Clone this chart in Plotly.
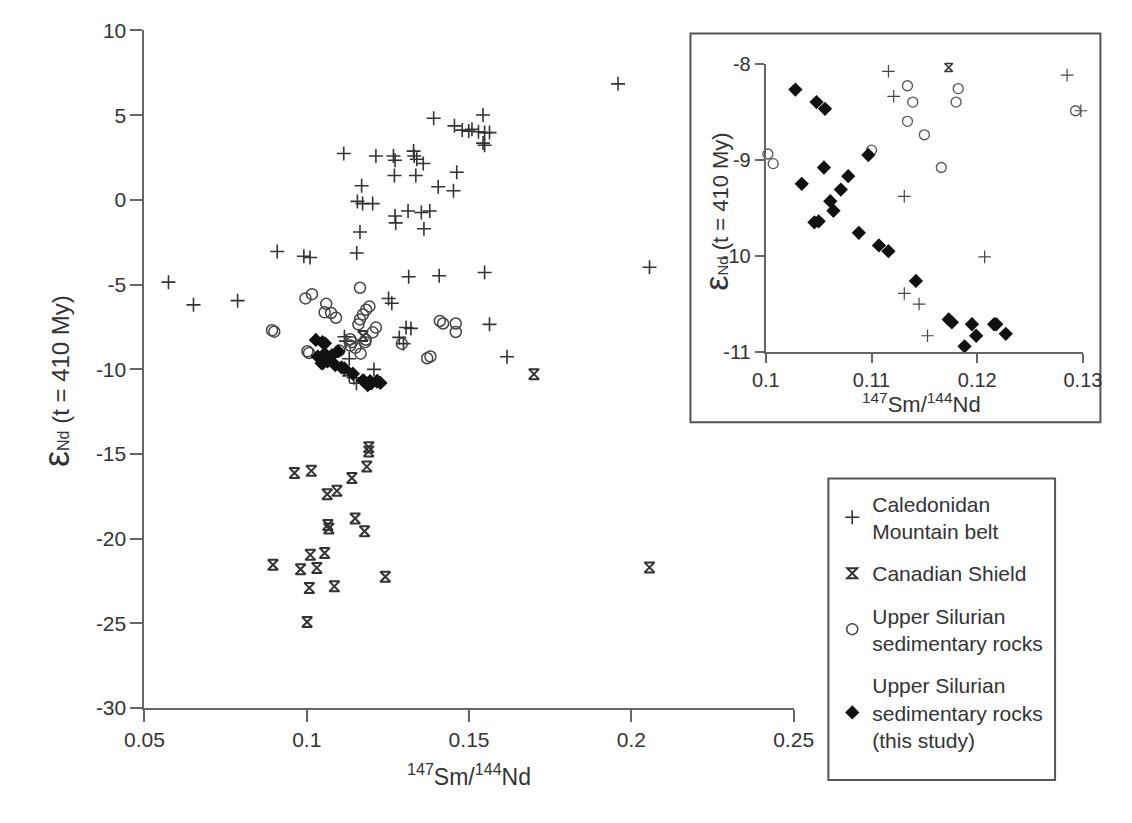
import plotly.graph_objects as go

W, H = 1132, 823

# ---------------- data ----------------
# Caledonidan Mountain belt
cal_x = [0.1391, 0.1543, 0.1455, 0.1479, 0.1499, 0.1509, 0.1529, 0.1548, 0.1563, 0.1543, 0.1548,
         0.1114, 0.1213, 0.1267, 0.1272, 0.1329, 0.1331, 0.1339, 0.1359,
         0.1270, 0.1336, 0.1462, 0.1405, 0.1452,
         0.1169, 0.1156, 0.1172, 0.1203,
         0.1272, 0.1274, 0.1312, 0.1353, 0.1379, 0.1361, 0.1164,
         0.0909, 0.0991, 0.1010, 0.1154,
         0.1314, 0.1408, 0.1548,
         0.0574, 0.0651, 0.0787,
         0.1252, 0.1262, 0.1306, 0.1321,
         0.1563, 0.1617, 0.2056, 0.1959,
         0.1116, 0.1121, 0.1131, 0.1131, 0.1145, 0.1153, 0.1207, 0.1285, 0.1298]
cal_y = [4.82, 5.01, 4.37, 4.12, 4.06, 4.17, 4.02, 3.97, 3.97, 3.35, 3.22,
         2.74, 2.59, 2.59, 2.34, 2.88, 2.59, 2.40, 2.15,
         1.44, 1.44, 1.63, 0.77, 0.54,
         0.83, -0.09, -0.22, -0.22,
         -0.95, -1.36, -0.66, -0.75, -0.66, -1.71, -1.90,
         -3.05, -3.33, -3.40, -3.14,
         -4.54, -4.48, -4.29,
         -4.86, -6.20, -5.95,
         -5.82, -6.10, -7.54, -7.59,
         -7.35, -9.26, -3.98, 6.85,
         -8.08, -8.34, -9.38, -10.39, -10.50, -10.83, -10.01, -8.12, -8.49]

# Canadian Shield
can_x = [0.1191, 0.1191, 0.1185, 0.0962, 0.1014, 0.1139, 0.1063, 0.1093, 0.1065, 0.1068,
         0.1149, 0.1178, 0.0896, 0.1011, 0.1055, 0.0981, 0.1031, 0.1008, 0.1085, 0.1242,
         0.1001, 0.1700, 0.2056, 0.1173]
can_y = [-14.60, -14.85, -15.75, -16.13, -16.00, -16.42, -17.38, -17.18, -19.20, -19.40,
         -18.81, -19.57, -21.54, -20.96, -20.85, -21.81, -21.73, -22.91, -22.82, -22.25,
         -24.92, -10.29, -21.70, -8.04]

# Upper Silurian sedimentary rocks
us_x = [0.0996, 0.1016, 0.1164, 0.1060, 0.1055, 0.1075, 0.1090, 0.0893, 0.0900,
        0.1183, 0.1193, 0.1173, 0.1164, 0.1159, 0.1213, 0.1203,
        0.1410, 0.1420, 0.1459, 0.1459, 0.1371, 0.1381,
        0.1002, 0.1007, 0.1100, 0.1134, 0.1139, 0.1134, 0.1150, 0.1182, 0.1180, 0.1166, 0.1293]
us_y = [-5.82, -5.57, -5.19, -6.14, -6.64, -6.68, -6.96, -7.70, -7.78,
        -6.49, -6.29, -6.77, -7.06, -7.35, -7.54, -7.82,
        -7.15, -7.30, -7.30, -7.80, -9.35, -9.25,
        -8.94, -9.04, -8.90, -8.23, -8.40, -8.60, -8.74, -8.26, -8.40, -9.08, -8.49]

# Upper Silurian sedimentary rocks (this study)
ts_x = [0.1028, 0.1048, 0.1056, 0.1097, 0.1055, 0.1034, 0.1078, 0.1071, 0.1061, 0.1064,
        0.1046, 0.1050, 0.1088, 0.1107, 0.1116, 0.1142, 0.1173, 0.1176, 0.1195, 0.1199,
        0.1216, 0.1218, 0.1227, 0.1188]
ts_y = [-8.27, -8.40, -8.47, -8.95, -9.08, -9.25, -9.17, -9.31, -9.43, -9.53,
        -9.65, -9.64, -9.76, -9.89, -9.95, -10.26, -10.66, -10.69, -10.71, -10.83,
        -10.71, -10.71, -10.81, -10.94]

series_names = ["Caledonidan<br>Mountain belt", "Canadian Shield",
                "Upper Silurian<br>sedimentary rocks",
                "Upper Silurian<br>sedimentary rocks<br>(this study)"]

main_xticks = [0.05, 0.1, 0.15, 0.2, 0.25]
main_xlabels = ["0.05", "0.1", "0.15", "0.2", "0.25"]
main_yticks = [10, 5, 0, -5, -10, -15, -20, -25, -30]
main_ylabels = ["10", "5", "0", "-5", "-10", "-15", "-20", "-25", "-30"]
inset_xticks = [0.1, 0.11, 0.12, 0.13]
inset_xlabels = ["0.1", "0.11", "0.12", "0.13"]
inset_yticks = [-8, -9, -10, -11]
inset_ylabels = ["-8", "-9", "-10", "-11"]

# ---------------- helpers ----------------
def fx(px):
    return px / W

def fy(py):
    return 1 - py / H

INSET_X = (0.1, 0.13)
INSET_Y = (-11, -8)

def in_window(xs, ys, tol_x=0.0012, tol_y=0.06):
    ox, oy = [], []
    for a, b in zip(xs, ys):
        if INSET_X[0] - tol_x <= a <= INSET_X[1] + tol_x and INSET_Y[0] - tol_y <= b <= INSET_Y[1] + tol_y:
            ox.append(a)
            oy.append(b)
    return ox, oy

styles = [
    dict(symbol="cross-thin", size=10, color="#333", line=dict(width=1.6, color="#333")),
    dict(symbol="hourglass-open", size=10, color="#333", line=dict(width=2, color="#333")),
    dict(symbol="circle-open", size=11, color="#444", line=dict(width=1.5, color="#444")),
    dict(symbol="diamond", size=11, color="#111", line=dict(width=0, color="#111")),
]
inset_styles = [
    dict(symbol="cross-thin", size=9, color="#444", line=dict(width=1.2, color="#444")),
    dict(symbol="hourglass-open", size=8, color="#333", line=dict(width=1.6, color="#333")),
    dict(symbol="circle-open", size=10, color="#555", line=dict(width=1.3, color="#555")),
    dict(symbol="diamond", size=11, color="#111", line=dict(width=0, color="#111")),
]
data_sets = [(cal_x, cal_y), (can_x, can_y), (us_x, us_y), (ts_x, ts_y)]

fig = go.Figure()

for i, ((xs, ys), name) in enumerate(zip(data_sets, series_names)):
    fig.add_trace(go.Scatter(x=xs, y=ys, mode="markers", name=name, marker=styles[i],
                             xaxis="x", yaxis="y", legendgroup=f"g{i}", cliponaxis=False))

for i, (xs, ys) in enumerate(data_sets):
    ix, iy = in_window(xs, ys)
    fig.add_trace(go.Scatter(x=ix, y=iy, mode="markers", marker=inset_styles[i], showlegend=False,
                             xaxis="x2", yaxis="y2", cliponaxis=False, hoverinfo="skip"))

def axis_style(fs):
    return dict(showline=True, linewidth=2, linecolor="#666", ticks="outside", tickwidth=2,
                tickcolor="#666", showgrid=False, zeroline=False,
                tickfont=dict(size=fs, color="#333"))

fig.update_layout(
    width=W, height=H,
    margin=dict(l=0, r=0, t=0, b=0),
    paper_bgcolor="white", plot_bgcolor="rgba(0,0,0,0)",
    font=dict(family="Liberation Sans, Arial, sans-serif", color="#333"),
    xaxis=dict(domain=[fx(129), fx(802)], range=[0.04999, 0.25001], tickvals=main_xticks,
               ticktext=main_xlabels, ticklen=12, anchor="y", **axis_style(21)),
    yaxis=dict(domain=[fy(716), fy(19)], range=[-30.001, 10.001], tickvals=main_yticks,
               ticktext=main_ylabels, ticklen=12, anchor="x", **axis_style(21)),
    xaxis2=dict(domain=[fx(773), fx(1102)], range=[0.09999, 0.13001], tickvals=inset_xticks,
                ticktext=inset_xlabels, ticklen=9, anchor="y2", **axis_style(20)),
    yaxis2=dict(domain=[fy(350), fy(53)], range=[-11.001, -7.999], tickvals=inset_yticks,
                ticktext=inset_ylabels, ticklen=9, anchor="x2", **axis_style(20)),
    legend=dict(x=fx(842), y=fy(485), xanchor="left", yanchor="top",
                borderwidth=0, bgcolor="rgba(0,0,0,0)",
                font=dict(size=21, color="#333"), tracegroupgap=12),
    shapes=[
        dict(type="rect", xref="paper", yref="paper", x0=fx(695), x1=fx(1120),
             y0=fy(422), y1=fy(22), line=dict(color="#555", width=2),
             fillcolor="white", layer="below"),
        dict(type="rect", xref="paper", yref="paper", x0=fx(838), x1=fx(1073),
             y0=fy(790), y1=fy(480), line=dict(color="#555", width=2),
             fillcolor="white", layer="below"),
    ],
    annotations=[
        dict(text="<span style='font-size:36px'>ε</span><span style='font-size:16px'>Nd</span> (t = 410 My)",
             x=fx(38), y=fy(380), xref="paper", yref="paper", textangle=-90, showarrow=False,
             font=dict(size=24, color="#333"), xanchor="center", yanchor="middle"),
        dict(text="<sup>147</sup>Sm/<sup>144</sup>Nd", x=fx(465), y=fy(785), xref="paper", yref="paper",
             showarrow=False, font=dict(size=23, color="#333"), xanchor="center", yanchor="middle"),
        dict(text="<span style='font-size:34px'>ε</span><span style='font-size:15px'>Nd</span> (t = 410 My)",
             x=fx(722), y=fy(205), xref="paper", yref="paper", textangle=-90, showarrow=False,
             font=dict(size=22, color="#333"), xanchor="center", yanchor="middle"),
        dict(text="<sup>147</sup>Sm/<sup>144</sup>Nd", x=fx(935), y=fy(402), xref="paper", yref="paper",
             showarrow=False, font=dict(size=22, color="#333"), xanchor="center", yanchor="middle"),
    ],
)

fig.write_html("out.html")
